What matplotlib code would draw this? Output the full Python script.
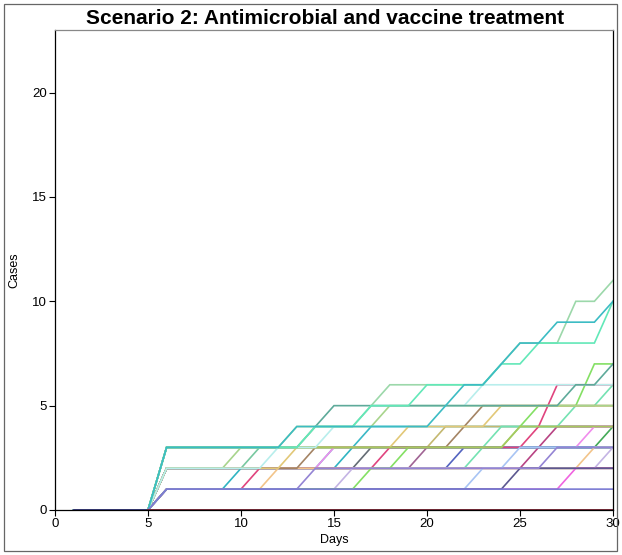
import matplotlib.pyplot as plt
from matplotlib.patches import Rectangle

plt.rcParams['font.family'] = ['Liberation Sans', 'DejaVu Sans']

# simulated cumulative cases, days 1..30
days = list(range(1, 31))
days_from5 = list(range(5, 31))

sim_dark_red2 = [0, 0, 0, 0, 0, 2, 2, 2, 2, 2, 2, 2, 2, 2, 2, 2, 2, 2, 2, 2, 2, 2, 2, 2, 2, 2, 2, 2, 2, 2]
sim_dk_olive = [0, 0, 0, 0, 0, 2, 2, 2, 2, 2, 2, 2, 2, 2, 2, 2, 2, 2, 2, 2, 2, 2, 2, 2, 2, 2, 2, 2, 2, 2]
sim_green = [0, 0, 0, 0, 0, 3, 3, 3, 3, 3, 3, 3, 3, 3, 3, 3, 3, 3, 3, 3, 3, 3, 3, 3, 3, 3, 3, 3, 3, 4]
sim_teal_b = [0, 0, 0, 0, 0, 3, 3, 3, 3, 3, 3, 3, 3, 3, 3, 3, 4, 4, 4, 4, 4, 4, 4, 4, 4, 4, 4, 4, 4, 4]
sim_khaki = [0, 0, 0, 0, 0, 3, 3, 3, 3, 3, 3, 3, 3, 3, 3, 3, 3, 3, 3, 3, 4, 4, 4, 4, 4, 4, 4, 4, 4, 4]
sim_teal_g = [0, 0, 0, 0, 0, 2, 2, 2, 2, 2, 3, 3, 3, 3, 3, 3, 3, 3, 3, 3, 3, 3, 3, 3, 3, 3, 3, 3, 3, 3]
sim_teal_c = [0, 0, 0, 0, 0, 2, 2, 2, 2, 2, 2, 2, 2, 2, 3, 3, 3, 3, 3, 3, 3, 3, 3, 3, 3, 3, 3, 3, 3, 3]
sim_gray = [0, 0, 0, 0, 0, 2, 2, 2, 2, 2, 2, 2, 2, 2, 2, 2, 3, 3, 3, 3, 3, 3, 3, 3, 3, 3, 3, 3, 3, 3]
sim_mauve = [0, 0, 0, 0, 0, 2, 2, 2, 2, 2, 2, 2, 2, 2, 2, 2, 2, 2, 2, 3, 3, 3, 3, 3, 3, 3, 3, 3, 3, 3]
sim_blue = [0, 0, 0, 0, 0, 2, 2, 2, 2, 2, 2, 2, 2, 2, 2, 2, 2, 2, 2, 2, 2, 3, 3, 3, 3, 3, 3, 3, 3, 3]
sim_dk_mag = [0, 0, 0, 0, 0, 2, 2, 2, 2, 2, 2, 2, 2, 2, 2, 2, 2, 2, 2, 2, 2, 2, 2, 2, 2, 3, 4, 4, 4, 4]
sim_pink = [0, 0, 0, 0, 0, 2, 2, 2, 2, 2, 2, 2, 2, 2, 3, 3, 3, 3, 3, 3, 3, 3, 3, 3, 3, 3, 3, 3, 4, 4]
sim_mint2 = [0, 0, 0, 0, 0, 2, 2, 2, 2, 2, 2, 2, 2, 2, 2, 2, 2, 2, 2, 2, 2, 2, 3, 4, 4, 4, 4, 5, 5, 6]
sim_teal_a = [0, 0, 0, 0, 0, 1, 1, 1, 1, 2, 2, 2, 2, 2, 2, 3, 3, 3, 3, 3, 3, 3, 3, 3, 3, 3, 3, 3, 3, 3]
sim_rose = [0, 0, 0, 0, 0, 1, 1, 1, 1, 1, 2, 2, 2, 2, 2, 2, 2, 3, 3, 3, 3, 3, 3, 3, 3, 4, 6, 6, 6, 6]
sim_orange = [0, 0, 0, 0, 0, 1, 1, 1, 1, 1, 1, 2, 2, 2, 2, 2, 2, 2, 2, 2, 2, 2, 2, 2, 2, 2, 2, 2, 3, 3]
sim_lavender = [0, 0, 0, 0, 0, 1, 1, 1, 1, 1, 1, 1, 1, 1, 1, 2, 2, 2, 2, 2, 2, 2, 2, 2, 2, 2, 2, 2, 2, 3]
sim_magenta = [0, 0, 0, 0, 0, 1, 1, 1, 1, 1, 1, 1, 1, 1, 1, 1, 1, 1, 1, 1, 1, 1, 1, 1, 1, 1, 1, 2, 2, 2]
sim_lt_blue = [0, 0, 0, 0, 0, 1, 1, 1, 1, 1, 1, 1, 1, 1, 1, 1, 1, 1, 1, 1, 1, 1, 2, 2, 3, 3, 3, 3, 3, 3]
sim_dk_purple = [0, 0, 0, 0, 0, 1, 1, 1, 1, 1, 1, 1, 1, 1, 1, 1, 1, 1, 1, 1, 1, 1, 1, 1, 2, 2, 2, 2, 2, 2]
sim_bright = [0, 0, 0, 0, 0, 1, 1, 1, 1, 1, 1, 1, 1, 1, 1, 1, 2, 2, 3, 3, 3, 3, 3, 3, 4, 5, 5, 5, 7, 7]
sim_purple = [0, 0, 0, 0, 0, 1, 1, 1, 1, 1, 1, 1, 1, 2, 2, 2, 2, 2, 2, 2, 2, 2, 2, 2, 2, 2, 3, 3, 3, 3]
sim_brown = [0, 0, 0, 0, 0, 2, 2, 2, 2, 2, 2, 2, 2, 3, 3, 3, 3, 3, 3, 3, 3, 4, 5, 5, 5, 5, 5, 5, 5, 5]
sim_tan = [0, 0, 0, 0, 0, 2, 2, 2, 2, 2, 2, 2, 3, 3, 3, 3, 3, 3, 4, 4, 4, 4, 4, 5, 5, 5, 5, 5, 5, 5]
sim_olive = [0, 0, 0, 0, 0, 3, 3, 3, 3, 3, 3, 3, 3, 3, 3, 3, 3, 3, 3, 3, 3, 3, 3, 3, 4, 4, 4, 4, 4, 4]
sim_lt_green = [0, 0, 0, 0, 0, 2, 2, 2, 2, 3, 3, 3, 4, 4, 4, 4, 4, 5, 5, 5, 5, 5, 5, 5, 5, 5, 5, 5, 5, 5]
sim_lt_cyan = [0, 0, 0, 0, 0, 2, 2, 2, 2, 2, 2, 3, 3, 3, 4, 4, 5, 5, 5, 5, 5, 5, 6, 6, 6, 6, 6, 6, 6, 6]
sim_teal_gray = [0, 0, 0, 0, 0, 3, 3, 3, 3, 3, 3, 3, 3, 4, 5, 5, 5, 5, 5, 5, 5, 5, 5, 5, 5, 5, 5, 6, 6, 7]
sim_pale = [0, 0, 0, 0, 0, 3, 3, 3, 3, 3, 3, 3, 3, 4, 4, 4, 5, 6, 6, 6, 6, 6, 6, 7, 8, 8, 8, 10, 10, 11]
sim_mint = [0, 0, 0, 0, 0, 3, 3, 3, 3, 3, 3, 3, 3, 4, 4, 4, 5, 5, 5, 6, 6, 6, 6, 7, 7, 8, 8, 8, 8, 10]
sim_teal = [0, 0, 0, 0, 0, 3, 3, 3, 3, 3, 3, 3, 4, 4, 4, 4, 4, 4, 4, 4, 5, 6, 6, 7, 8, 8, 9, 9, 9, 10]
sim_level1 = [0, 0, 0, 0, 0, 1, 1, 1, 1, 1, 1, 1, 1, 1, 1, 1, 1, 1, 1, 1, 1, 1, 1, 1, 1, 1, 1, 1, 1, 1]
sim_zero = [0, 0, 0, 0, 0, 0, 0, 0, 0, 0, 0, 0, 0, 0, 0, 0, 0, 0, 0, 0, 0, 0, 0, 0, 0, 0, 0, 0, 0, 0]
sim_zero_late = [0, 0, 0, 0, 0, 0, 0, 0, 0, 0, 0, 0, 0, 0, 0, 0, 0, 0, 0, 0, 0, 0, 0, 0, 0, 0]

runs = [
    (sim_dark_red2, '#84304a'), (sim_dk_olive, '#607434'), (sim_green, '#44aa58'),
    (sim_teal_b, '#3ab8c6'), (sim_khaki, '#c4b870'), (sim_teal_g, '#78c8a0'),
    (sim_teal_c, '#44c2c8'), (sim_gray, '#646c74'), (sim_mauve, '#a06494'),
    (sim_blue, '#5464c0'), (sim_dk_mag, '#b84484'), (sim_pink, '#f08cec'),
    (sim_mint2, '#74e2b2'), (sim_teal_a, '#30b4c2'), (sim_rose, '#e0447e'),
    (sim_orange, '#f2c48a'), (sim_lavender, '#c4b4e4'), (sim_magenta, '#f064e0'),
    (sim_lt_blue, '#a8c4f4'), (sim_dk_purple, '#5c5890'), (sim_bright, '#84e064'),
    (sim_purple, '#9484d4'), (sim_brown, '#a48464'), (sim_tan, '#e2c878'),
    (sim_olive, '#a8c860'), (sim_lt_green, '#a8d48c'), (sim_lt_cyan, '#b8eeec'),
    (sim_teal_gray, '#5eaa9a'), (sim_pale, '#9cd8aa'), (sim_mint, '#62e8b8'),
    (sim_teal, '#3cbcc4'), (sim_level1, '#7c7cd4'), (sim_zero, '#30306c'),
]

fig = plt.figure(figsize=(6.22, 5.55), dpi=100)
ax = fig.add_axes([55 / 622, 45 / 555, 558 / 622, 480 / 555])

for vals, col in runs:
    ax.plot(days, vals, color=col, linewidth=1.2, solid_joinstyle='miter')
ax.plot(days_from5, sim_zero_late, color='#80303c', linewidth=1.4)

ax.set_xlim(0, 30)
ax.set_ylim(0, 23)
ax.set_xticks([0, 5, 10, 15, 20, 25, 30])
ax.set_yticks([0, 5, 10, 15, 20])
ax.tick_params(direction='out', length=4, width=0.8, labelsize=9.5, pad=2)
ax.set_xlabel('Days', fontsize=9, labelpad=3)
ax.set_ylabel('Cases', fontsize=9, labelpad=8)
ax.spines['top'].set_color('#888888')
for s in ['left', 'bottom', 'right']:
    ax.spines[s].set_color('black')
for s in ax.spines.values():
    s.set_linewidth(0.9)

fig.text(325 / 622, 1 - 18 / 555, 'Scenario 2: Antimicrobial and vaccine treatment',
         ha='center', va='center', fontsize=15, fontweight='bold')

fig.patches.append(Rectangle((4 / 622, 4 / 555), 613 / 622, 547 / 555, transform=fig.transFigure,
                             fill=False, edgecolor='#666666', linewidth=0.9))

fig.savefig('out.png', dpi=100)
